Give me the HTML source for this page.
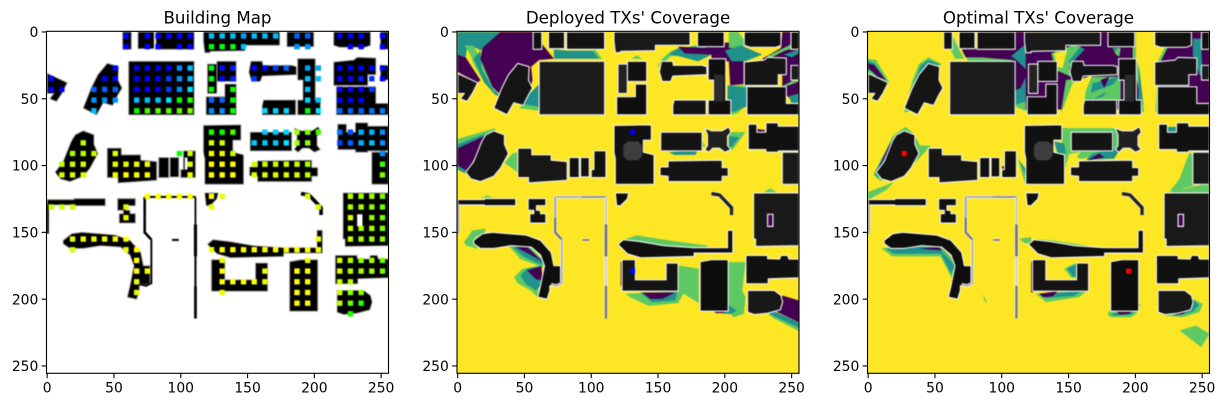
<!DOCTYPE html>
<html lang="en">
<head>
<meta charset="utf-8">
<title>Building Map and TX Coverage</title>
<style>
html,body{margin:0;padding:0;background:#fff;}
svg{display:block;font-family:"DejaVu Sans",sans-serif;}
.raster{filter:blur(0.4px);}
</style>
</head>
<body>
<svg id="figure" xmlns="http://www.w3.org/2000/svg" width="1224" height="407" viewBox="0 0 1224 407"></svg>
<script>
const panelTitles = ["Building Map", "Deployed TXs' Coverage", "Optimal TXs' Coverage"];
const tickValues = [0, 50, 100, 150, 200, 250];
const viridisLevels = ["#440154", "#21918c", "#5ec962", "#fde725"];

/* map grid: row index, then [column index, signal level 0-100] */
const dotRows = [
[0,[[7,0],[9,0],[10,0],[11,0],[12,0],[13,0],[15,25],[16,25],[17,25],[18,21],[19,25],[20,25],[21,25],[23,13],[24,13],[27,0],[28,0],[29,0],[31,0]]],
[1,[[7,0],[9,0],[10,0],[12,0],[13,0],[15,67],[16,67],[17,67],[18,25],[23,19],[24,19],[28,0],[29,0],[31,0]]],
[3,[[6,0],[8,0],[9,0],[10,0],[11,0],[12,19],[13,25],[15,67],[16,2],[17,4],[19,0],[20,0],[21,8],[22,13],[24,21],[25,21],[27,0],[28,0],[29,0],[30,0],[31,0]]],
[4,[[0,0],[5,0],[6,0],[8,0],[9,0],[10,0],[11,8],[12,19],[13,25],[15,67],[16,0],[17,4],[19,8],[24,25],[25,25],[27,0],[28,0],[29,4],[30,6],[31,0]]],
[5,[[0,0],[1,0],[4,13],[5,13],[6,13],[8,0],[9,0],[10,0],[11,8],[12,19],[13,29],[15,67],[17,67],[24,25],[27,0],[28,0],[29,0],[30,8]]],
[6,[[4,19],[5,19],[6,19],[8,25],[9,25],[10,25],[11,30],[12,67],[13,72],[15,13],[16,13],[17,67],[24,27],[25,25],[27,0],[28,0],[29,0]]],
[7,[[4,25],[8,67],[9,75],[10,79],[11,79],[12,79],[13,83],[15,19],[16,19],[17,67],[20,28],[21,28],[22,28],[24,67],[25,30],[27,13],[28,13],[29,13],[30,15],[31,17]]],
[9,[[15,70],[16,67],[17,75],[20,26],[21,26],[22,28],[23,88],[24,83],[25,75],[27,15],[28,10],[29,23],[30,23],[31,19]]],
[10,[[3,92],[15,95],[16,94],[19,26],[20,26],[21,26],[22,30],[23,88],[24,85],[27,8],[28,13],[29,23],[30,25],[31,19]]],
[11,[[2,88],[3,90],[4,92],[6,96],[12,67],[13,92],[15,100],[16,98],[17,92],[31,19]]],
[12,[[1,92],[2,94],[3,95],[6,97],[7,97],[8,98],[9,98],[13,96],[15,100],[16,100],[17,100],[19,94],[20,92],[21,93],[22,93],[23,92],[24,89],[31,75]]],
[13,[[1,94],[2,95],[3,96],[6,98],[7,100],[8,100],[9,100],[13,98],[15,100],[16,100],[17,100],[19,96],[20,96],[21,96],[22,96],[23,95],[24,92],[31,83]]],
[15,[[9,100],[10,100],[11,100],[12,100],[13,100],[15,100],[16,97],[24,96],[28,90],[29,88],[30,88],[31,83]]],
[16,[[0,92],[1,93],[2,94],[7,96],[15,97],[25,96],[28,88],[29,88],[30,85],[31,81]]],
[17,[[7,97],[28,94],[30,85],[31,81]]],
[18,[[28,93],[29,89],[30,88],[31,83]]],
[19,[[2,97],[3,98],[4,98],[5,99],[6,99],[7,100],[25,97],[28,92],[29,88],[30,88],[31,85]]],
[20,[[2,95],[7,98],[8,100],[15,97],[16,100],[17,100],[18,100],[19,100],[20,100],[21,100],[22,100],[23,100],[24,100],[25,100]]],
[21,[[8,100],[16,97],[24,97],[27,95],[28,90],[29,85],[30,88],[31,81]]],
[22,[[8,100],[9,100],[16,100],[20,97],[23,100],[24,100],[27,94],[28,90],[29,88],[30,88],[31,83]]],
[23,[[8,97],[16,100],[17,100],[18,100],[19,100],[20,97],[23,100],[24,100],[27,93],[28,90]]],
[24,[[8,97],[16,97],[23,100],[24,100],[27,94],[28,85],[29,85]]],
[25,[[23,100],[24,100],[27,91],[28,81],[29,72]]],
[26,[[28,70]]]
];

/* buildings: [shade, outline in image row/column units] */
const buildings = [
["#111",[[56.5,0],[63,0],[63,13],[56.5,13]]],
["#111",[[68,0],[80,0],[80,12.5],[68,12.5]]],
["#131313",[[81.5,0],[110,0],[110,13],[81.5,13]]],
["#1c1c1c",[[61,22],[110,22],[110,62],[61,62]]],
["#151515",[[0,31],[15,38],[11,46],[7,52],[2,50],[5,46],[0,46]]],
["#151515",[[45,23.5],[53.5,26],[53,36],[56,42],[53,47],[49,55],[42,53],[37,62],[27,57],[33,42],[38,32]]],
["#151515",[[27,74],[35,77],[35,84],[38,91],[32,102],[27,108],[17,112],[10,110],[6,105],[12,97],[18,82],[21,77]]],
["#171717",[[45,87],[55.5,87],[55.5,92],[70,92],[70,96],[82,97],[82,111],[53,113],[53,109],[45,109]]],
["#111",[[83.5,94],[91,94],[91,109],[83.5,109]]],
["#111",[[92,94],[98.5,94],[98.5,108.5],[92,108.5]]],
["#111",[[102,89],[111,89],[111,109],[100,109],[100,103],[102,103]]],
["#111",[[0,125.5],[20,125.5],[20,124.75],[43.5,124.75],[43.5,130],[20,130],[20,129.5],[0,129.5]]],
["#111",[[52.75,124.75],[66,124.75],[66,130],[59,130],[59,133.5],[62,133.5],[62,136],[66,136],[66,143],[54,143],[54,136],[57,136],[57,133.5],[52.75,133.5]]],
["#0e0e0e",[[12,156],[18.5,151],[26,150],[38.5,151],[51,152],[62,156],[70,165],[72,175],[77,175],[77,188.5],[69,190],[69,193.5],[67,200],[60,198.5],[62,190],[63,185],[65,175],[62,167],[55,161],[40,160],[27,162],[17,162],[12,158.5]]],
["#191919",[[117,0],[148,0],[148,0],[174,0],[174,10],[148,10],[148,14],[122,14.5],[122,15.5],[118,15.5],[117,7]]],
["#0f0f0f",[[179.5,0],[199.5,0],[199.5,11],[179.5,11]]],
["#111",[[214.5,0],[242,0],[242,10],[238,11.5],[219,11.5],[214.5,10]]],
["#111",[[249.5,0],[255.5,0],[255.5,13],[249.5,13]]],
["#111",[[127,22],[141.5,22],[141.5,37],[127,37]]],
["#222",[[120,24],[127,24],[127,46],[120,46]]],
["#0f0f0f",[[119,48.5],[133,48.5],[133,39],[141.5,39],[141.5,62],[119,62]]],
["#141414",[[152.5,22],[161,22],[161.5,25],[183,25],[186.5,26],[186.5,32],[161,33],[159.5,37],[153,37],[151,30]]],
["#0f0f0f",[[187.5,20],[200.7,20],[200.7,51],[204.5,51],[204.5,62],[187.5,62],[187.5,51],[191.5,51],[191.5,36],[187.5,36]]],
["#141414",[[162,51],[186,51],[186,62],[161,62],[161,55]]],
["#161616",[[214.5,22.5],[229.5,21],[232,19],[246,19.5],[246,32],[240,32],[240,40],[214.5,40]]],
["#1c1c1c",[[249.5,25],[255.5,25],[255.5,36],[249.5,36]]],
["#101010",[[216.5,41],[246,41],[246,53.5],[255.5,53.5],[255.5,62],[216.5,62]]],
["#111",[[117,70],[145,69.5],[145,81],[139,81],[139,90],[147,92],[147,114],[118,114],[118,95],[117,90]]],
["#141414",[[152,75],[183,75],[183,89],[152,89]]],
["#202020",[[185,72],[190,74],[198,74],[203,71],[204.5,75],[202,78],[202,85],[204.5,88],[200,90],[196,87],[191,87],[188,90],[185,88],[187,85],[187,77]]],
["#111",[[217.5,69],[224,69],[224,75],[230.75,75],[230.75,68],[240,68],[240,70.5],[255.5,70.5],[255.5,89],[240,89],[240,90],[230.75,90],[230.75,88],[217.5,88]]],
["#1a1a1a",[[243,90],[255.5,90],[255.5,114],[243,114]]],
["#141414",[[151.5,101],[151.5,107.5],[157.5,108],[157.5,112],[198,112],[198,108],[202.5,108],[202.5,101.5],[198,101.5],[198,96],[157.5,96.5],[157.5,101]]],
["#0f0f0f",[[118,120.5],[128,120.5],[127,125],[122,130],[119,130]]],
["#0f0f0f",[[120,159],[124,155.5],[137,157],[154.5,160],[169.5,161],[176.5,161.5],[202,161.5],[202,148.5],[206,148.5],[206,165.5],[177,165.5],[177,168],[137,169],[127,166]]],
["#141414",[[123,170.5],[133,170.5],[133,185.5],[156,185.5],[156,173],[165,173],[165,194],[123,194]]],
["#0d0d0d",[[181.5,172],[190,170.5],[202.5,170.5],[202.5,209],[181.5,209]]],
["#191919",[[221.5,120.5],[255.5,120.5],[255.5,160],[223,160.5],[223,155],[221.5,155]]],
["#111",[[215.75,167.25],[232,167.25],[232,169.75],[241,170],[242,167.25],[247,167.25],[248,170],[255.5,170],[255.5,184],[232.5,184.75],[232.5,188.5],[215.75,188.5]]],
["#181818",[[217,193.5],[237,193.5],[242,197.25],[243.25,202.25],[241.5,208],[232,210.5],[222,211.5],[217,209.75]]]
];

/* interior detail only visible on the coverage maps */
const darkAccents = [
[[192,32],[199,32],[199,52],[192,52]],
[[127,82],[135,82],[138,85],[138,93],[135,96],[127,96],[124,93],[124,85]]
];
const buildingHole = [[232,136.5],[236,136.5],[236,145.5],[232,145.5]];
const courtyardNotch = [[103,94],[105,94],[105,103],[103,103]];

/* thin walls: [points, width, grey shade on coverage maps] */
const walls = [
[[[0.5,129],[0.5,151]],1.4,"#999"],
[[[73,123.5],[93,123.5]],1.4,"#aaa"],
[[[93,123.5],[111,123.5]],1.4,"#888"],
[[[73,123.5],[73,139]],1.8,"#aaa"],
[[[73,139],[73,150],[78,155.5]],1.8,"#777"],
[[[78,155.5],[78,188],[74,190],[70,189]],1.3,"#aaa"],
[[[111,123.5],[111,144]],1.2,"#bbb"],
[[[111,144],[111,168]],2.2,"#777"],
[[[111,168],[111,190]],1.4,"#ccc"],
[[[111,190],[111,214.5]],1.9,"#777"],
[[[93.5,155.7],[98.5,155.7]],1.4,"#777"],
[[[190,121],[196,122],[205,131.5],[205,137]],2.6,"#222"]
];

/* coverage polygons: [viridis level, outline] in paint order */
const deployedCoverage = [
[1,[[0,0],[32,0],[17,14],[14,12],[7,12],[6,19],[0,17]]],
[2,[[5,10],[12,10],[18,22],[24,35],[31,47],[27,46],[20,38],[12,24],[9,16]]],
[1,[[17,14],[18,28],[27,44],[33,49],[28,47],[20,38],[12,20]]],
[0,[[18.5,12],[32,0],[56,0],[72,20],[61,21],[55,26],[56,36],[53,47],[46,23],[40,30],[32,47],[26,41],[17,20]]],
[1,[[72,20],[106,20],[101,14],[82,14],[72,13]]],
[2,[[101,14],[106,20],[108,20],[103,13]]],
[1,[[51,49],[61,39],[61,57],[49,56]]],
[2,[[49,54],[61,56],[61,59],[46,57]]],
[0,[[0,17],[6,19],[17,36],[15,38],[0,30]]],
[2,[[0,80],[28,72],[28,76],[0,86]]],
[1,[[0,84],[24,75],[22,78],[0,88]]],
[0,[[0,87],[22,77],[7,105],[0,100]]],
[1,[[0,100],[7,104],[8,107],[0,103]]],
[2,[[35,98],[45,105],[45,90],[41,91]]],
[2,[[149,27],[153,20],[160,14],[178,10],[183,14],[180,18],[160,18],[155,22]]],
[2,[[130,20],[138,20],[134,17.5]]],
[1,[[158,17],[165,12],[190,10],[190,17],[180,22],[165,18]]],
[0,[[165,11],[185,12],[190,8],[205,8],[214,22],[214,39],[204,40],[203,22],[190,22],[190,17],[170,16]]],
[2,[[203,0],[210,0],[216,8],[214,12],[203,12]]],
[1,[[200,14],[212,10],[228,17],[215,22],[205,22]]],
[2,[[216,40],[220,45],[216,55],[209,61],[205,62],[203,40]]],
[1,[[202,40],[216,42],[218,55],[206,60],[202,58]]],
[0,[[228,20],[242,12],[243,0],[255.5,0],[255.5,55],[243,45],[243,30]]],
[2,[[232,18],[250,9],[255.5,8],[255.5,11],[245,14],[233,20]]],
[1,[[244,17],[255.5,13],[255.5,16],[250,19]]],
[2,[[240,42],[255.5,34],[255.5,37],[248,40]]],
[1,[[248,48],[255.5,46],[255.5,54],[250,54]]],
[2,[[203,75],[215.5,75],[206,88],[203,89]]],
[1,[[203,78],[211,79],[205,86],[203,87]]],
[2,[[179,77],[185.5,85],[179,88]]],
[1,[[158,90],[180,88],[178,92],[162,92]]],
[0,[[224,72.5],[230,73.5],[230,75],[224,75]]],
[2,[[229,120],[239,120],[234,117]]],
[2,[[17.25,124],[27.25,124],[22,122.5]]],
[2,[[4.75,157.25],[11,148.5],[21,147.25],[19.75,151],[13.5,153.5],[14.75,162.25],[6,159.75]]],
[2,[[38.5,160.5],[53.5,160],[66,173.5],[63.5,176],[47,170]]],
[1,[[41,161],[52,160.5],[65,172],[62,174],[50,168.5]]],
[0,[[43.5,161],[52,161],[63.5,172],[55,167]]],
[2,[[42.25,183.5],[48.5,177.25],[62.75,174.75],[59.75,198.5],[54.75,193.5],[44.75,188]]],
[1,[[47,182.25],[52,177.25],[62.75,174.75],[62.25,189.75],[58.5,193.5],[51,188.5]]],
[0,[[52,178.5],[62.75,175.5],[63.5,186],[58.5,185]]],
[2,[[125.5,155],[134,152.25],[158,156],[188,160],[177,164],[140,160]]],
[2,[[125.5,196],[165,194],[165.5,174.75],[180.5,177.25],[180.5,203],[169,196],[165,203],[143,205],[130,199]]],
[1,[[136.75,195],[164.25,195],[163,201],[145.5,202.25]]],
[0,[[138,195],[163,195],[153,199.75],[144.25,199.75]]],
[2,[[201.75,172.25],[215.5,172.25],[213,193.5],[215.5,198.5],[214.25,211],[206.75,213.5],[201.75,208.5]]],
[1,[[201.75,203.5],[209,208.5],[205,211],[199,211]]],
[0,[[191.75,208.5],[200.5,208],[199.25,210.5],[193,210.5]]],
[2,[[232,211],[255.5,220],[255.5,224],[236,214]]],
[1,[[235.5,208.5],[255.5,217.25],[255.5,221.5],[233,211]]],
[0,[[243,197.25],[255.5,201],[255.5,217.25],[236.75,208.5],[240.5,204.75]]],
[0,[[122,172],[123.5,172],[123.5,190],[122,190]]],
[0,buildingHole]
];

const optimalCoverage = [
[2,[[55.5,0],[62,0],[68,13],[72,20],[65,20]]],
[2,[[-1,20],[6,21],[16,38],[13,40],[-1,30]]],
[1,[[0,21],[5,24],[14,37],[0,28]]],
[0,[[0,23.5],[4.5,24.75],[13.25,36],[7,33.5],[0,27]]],
[2,[[27,60],[33,37],[38,24],[45,19],[55,24],[50,28],[45,25],[40,30],[35,45],[30,60]]],
[1,[[28,58],[34.5,37],[39.5,25],[45,21],[53,24],[50,28],[45,25],[40,30],[35,45],[30,58]]],
[2,[[4,107],[19,77],[28,71],[33,75],[39,85],[47,85],[35,98],[35,88],[30,80],[22,78],[12,107],[10,112]]],
[1,[[5,105],[18,80],[26,74],[22,78],[12,100],[7,110]]],
[0,[[20.75,78.5],[9.5,99.75],[7,103.5],[15.75,84.75]]],
[2,[[0,119.75],[19.5,112.25],[13.25,118.5],[0,125.75]]],
[2,[[70,13],[90,11],[117,5],[121,0],[128,0],[122,22],[120,60],[108,55],[108,22],[75,22]]],
[0,[[70,13],[90,12],[107,11],[107,0],[117,0],[120,22],[135,22],[135,47],[120,47],[112,50],[108,45],[108,21],[85,19],[73,19]]],
[1,[[107,18],[118,9],[120,0],[123,0],[122,20],[120,45],[118,52],[108,55],[107,45],[114,42],[120,30],[112,22]]],
[2,[[112,94.75],[119.5,104.75],[119.5,114.75],[117,112.25]]],
[1,[[113,96],[119,104],[119,110]]],
[0,[[100,101],[104,99],[105,102],[101,103]]],
[0,[[118,0],[255.5,0],[255.5,58],[118,58]]],
[1,[[243,5],[249,5],[250.5,33.5],[248,32],[243,17]]],
[2,[[137,16],[153,10],[159,11],[150.5,27],[151.75,33.5],[140.5,28.5]]],
[3,[[139,16],[149,13.5],[145.5,27],[141.75,26]]],
[1,[[148,0],[151,0],[151,10],[149,10]]],
[1,[[159,11],[162,13],[152,24],[150,22]]],
[2,[[183,12],[189,12],[188,18.5],[185.5,17]]],
[1,[[183,12],[186,12],[186,15]]],
[2,[[144,62],[148,36],[168,33.5],[189,33.5],[189,51],[163,51],[160.5,62]]],
[3,[[144,62],[153,38.5],[168,32],[163,43.5],[161.75,52],[160.5,62.25]]],
[1,[[168,38.5],[188,33.5],[175.5,48.5],[165.5,51]]],
[0,[[174,36],[180.5,33.5],[176.75,42]]],
[2,[[165.5,46],[185.5,38.5],[184,42],[166.75,51]]],
[2,[[198,0],[217,0],[217,10],[224,12],[218,24],[217,62],[204,62],[202,40],[198,20]]],
[1,[[203,27],[208,53],[205,55],[202,50]]],
[3,[[200.5,0],[215.5,0],[215.5,11],[221.75,12],[216.75,22],[215,62],[206.75,62],[205.5,50],[203,27],[200.5,20]]],
[3,[[0,60],[255.5,60],[255.5,70],[0,70]]],
[2,[[144,72],[185.5,72],[186.75,90],[159,95],[150.5,91],[146.75,105],[145.5,85]]],
[1,[[139.25,82],[146.75,83.5],[148,91],[141.75,91]]],
[1,[[179,75],[188,75],[188,88.5],[184,95],[179,95],[163,96],[168,91],[179,88.5]]],
[0,[[164.25,96],[173,91],[176.75,94]]],
[2,[[184,75],[188,75],[188,90],[184,87]]],
[3,[[151.75,91],[159,90],[154,96]]],
[1,[[224,71],[231,71],[231,76],[224,76]]],
[2,[[240.5,90],[243,92],[244,115],[225.5,120],[233,110]]],
[2,[[225.5,120],[255.5,113],[255.5,121],[225.5,122]]],
[2,[[226.75,117],[235.5,117],[235,120],[228,120]]],
[2,[[113,154.75],[122,153.5],[122,158.5],[117,158]]],
[2,[[85.75,196],[89,202.25],[87.5,202.25]]],
[2,[[10,162],[37,159],[53,159],[68,175],[63,185],[54,168],[34,168],[18,168]]],
[1,[[13.25,162.25],[37,161],[52,161],[65,174.75],[62,181],[54.5,166],[34.5,166],[19.5,166]]],
[0,[[38,162.25],[53,161],[65,173],[55.75,163.5]]],
[0,[[62,186],[66,186],[64,190]]],
[2,[[125.5,155],[138,156],[170.5,161],[175.5,162],[170,163],[135,159],[125.5,157]]],
[2,[[146.75,177.25],[156.75,172.25],[156.75,184.75],[151.75,183.5]]],
[1,[[149,177],[156.75,173.5],[156.75,183],[153,183]]],
[2,[[125.5,196],[164.25,193.5],[158,198.5],[133,202.25]]],
[1,[[128,196],[160,194],[154,197.5],[133,199]]],
[0,[[128,196],[142,194],[138,198],[131,198.5]]],
[2,[[179.25,211.5],[183,204.75],[204.25,203.5],[200.5,211],[196.75,213.5],[181.75,213.5]]],
[1,[[181.75,211],[200.5,208.5],[196.75,211.5],[184.25,212.25]]],
[0,[[185.5,209],[198,208.5],[195.5,211],[188,211.5]]],
[2,[[243,199.75],[250.5,203.5],[248,209.75],[235.5,213.5],[221.75,212.25],[235.5,209]]],
[1,[[243,199.75],[247.5,204.5],[243,209.5],[228,213],[243,204.5]]],
[0,[[228,211.5],[238,209.5],[235,211.5]]],
[2,[[233,223.5],[245.5,219.75],[255.5,226],[249.25,236],[243,231]]],
[0,[[122,172],[123.5,172],[123.5,195],[122,195]]],
[0,buildingHole]
];

/* transmitter markers: grid column, grid row */
const deployedTxCols = [16, 16];
const deployedTxRows = [9, 22];
const optimalTxCols = [3, 24];
const optimalTxRows = [11, 22];

const NS = "http://www.w3.org/2000/svg";
const svg = document.getElementById("figure");
const panelLefts = [46.5, 457, 867.5];
const axesTop = 31.3;
const axesSize = 342;
const dataSpan = 256;
const unit = axesSize / dataSpan;

function xScale(p, v) { return panelLefts[p] + (v + 0.5) * unit; }
function yScale(v) { return axesTop + (v + 0.5) * unit; }
function gridPos(i) { return 3 + 8 * i; }
function dotColor(level) { return "hsl(" + (240 - 1.8 * level) + ",100%,50%)"; }

function shape(parent, tag, attrs) {
  const el = document.createElementNS(NS, tag);
  for (const k in attrs) el.setAttribute(k, attrs[k]);
  parent.appendChild(el);
  return el;
}
function ptsAttr(p, pts) {
  return pts.map(function (q) { return xScale(p, q[0]).toFixed(2) + "," + yScale(q[1]).toFixed(2); }).join(" ");
}

const defs = shape(svg, "defs", {});
panelLefts.forEach(function (left, i) {
  const clip = shape(defs, "clipPath", { id: "clip" + i });
  shape(clip, "rect", { x: left, y: axesTop, width: axesSize, height: axesSize });
});

function drawBuildings(g, p, fillFn, stroke, strokeW) {
  buildings.forEach(function (b) {
    const el = shape(g, "polygon", { points: ptsAttr(p, b[1]), fill: fillFn(b[0]), stroke: stroke, "stroke-width": strokeW, "stroke-linejoin": "round" });
    
    
  });
}

function drawWalls(g, p, mono) {
  walls.forEach(function (w) {
    if (!mono) {
      shape(g, "polyline", { points: ptsAttr(p, w[0]), fill: "none", stroke: "#fff", "stroke-width": (w[1] + 0.9) * unit });
    } else {
      shape(g, "polyline", { points: ptsAttr(p, w[0]), fill: "none", stroke: "#aaa", "stroke-width": (w[1] + 0.4) * unit });
    }
    const el = shape(g, "polyline", { points: ptsAttr(p, w[0]), fill: "none", stroke: mono ? "#000" : w[2], "stroke-width": w[1] * unit });
    
    
  });
}

function drawMarker(g, p, c, r, color, size) {
  const el = shape(g, "rect", { x: xScale(p, gridPos(c) - size / 2), y: yScale(gridPos(r) - size / 2), width: size * unit, height: size * unit, fill: color });
  return el;
}

function drawAxes(p) {
  const left = panelLefts[p];
  const frame = shape(svg, "rect", { x: left, y: axesTop, width: axesSize, height: axesSize, fill: "none", stroke: "#000", "stroke-width": 1.1 });
  
  
  tickValues.forEach(function (t) {
    shape(svg, "line", { x1: xScale(p, t), x2: xScale(p, t), y1: axesTop + axesSize, y2: axesTop + axesSize + 4.9, stroke: "#000", "stroke-width": 1.1 });
    const xl = shape(svg, "text", { x: xScale(p, t), y: axesTop + axesSize + 19.2, "text-anchor": "middle", "font-size": "13.89px", fill: "#000" });
    xl.textContent = t;
    
    
    shape(svg, "line", { x1: left - 4.9, x2: left, y1: yScale(t), y2: yScale(t), stroke: "#000", "stroke-width": 1.1 });
    const yl = shape(svg, "text", { x: left - 8.2, y: yScale(t) + 5.1, "text-anchor": "end", "font-size": "13.89px", fill: "#000" });
    yl.textContent = t;
    
    
  });
  const title = shape(svg, "text", { x: left + axesSize / 2, y: 23.3, "text-anchor": "middle", "font-size": "16.67px", fill: "#000" });
  title.textContent = panelTitles[p];
  
  
}

/* panel 1: building map */
(function () {
  const g = shape(svg, "g", { "clip-path": "url(#clip0)" });
  
  
  shape(g, "rect", { x: panelLefts[0], y: axesTop, width: axesSize, height: axesSize, fill: "#fff" });
  const art = shape(g, "g", { class: "raster" });
  
  
  drawBuildings(art, 0, function () { return "#000"; }, "#9a9a9a", 0.9);
  drawWalls(art, 0, true);
  shape(art, "polygon", { points: ptsAttr(0, buildingHole), fill: "#fff" });
  shape(art, "polygon", { points: ptsAttr(0, courtyardNotch), fill: "#fff" });
  dotRows.forEach(function (row) {
    row[1].forEach(function (cell) {
      const el = drawMarker(art, 0, cell[0], row[0], dotColor(cell[1]), 4);
      
      
    });
  });
})();

/* panels 2 and 3: coverage maps */
function drawCoverage(p, layers, txCols, txRows, txColor, name) {
  const g = shape(svg, "g", { "clip-path": "url(#clip" + p + ")" });
  
  
  shape(g, "rect", { x: panelLefts[p], y: axesTop, width: axesSize, height: axesSize, fill: viridisLevels[3] });
  const art = shape(g, "g", { class: "raster" });
  
  
  layers.filter(function (l) { return l[1] !== buildingHole; }).forEach(function (l) {
    const el = shape(art, "polygon", { points: ptsAttr(p, l[1]), fill: viridisLevels[l[0]] });
    
    
  });
  drawBuildings(art, p, function (s) { return s; }, "#f2f2f2", 1.1);
  darkAccents.forEach(function (a, i) {
    shape(art, "polygon", { points: ptsAttr(p, a), fill: i === 0 ? "#2c2c2c" : "#3e3e3e" });
  });
  drawWalls(art, p, false);
  shape(art, "polygon", { points: ptsAttr(p, buildingHole), fill: viridisLevels[0], stroke: "#eee", "stroke-width": 1.2 });
  txCols.forEach(function (c, i) {
    const el = drawMarker(art, p, c, txRows[i], txColor, 3.8);
    
    
  });
}
drawCoverage(1, deployedCoverage, deployedTxCols, deployedTxRows, "#0000ff", "deployed-coverage-map");
drawCoverage(2, optimalCoverage, optimalTxCols, optimalTxRows, "#ff0000", "optimal-coverage-map");

[0, 1, 2].forEach(drawAxes);
</script>
</body>
</html>
